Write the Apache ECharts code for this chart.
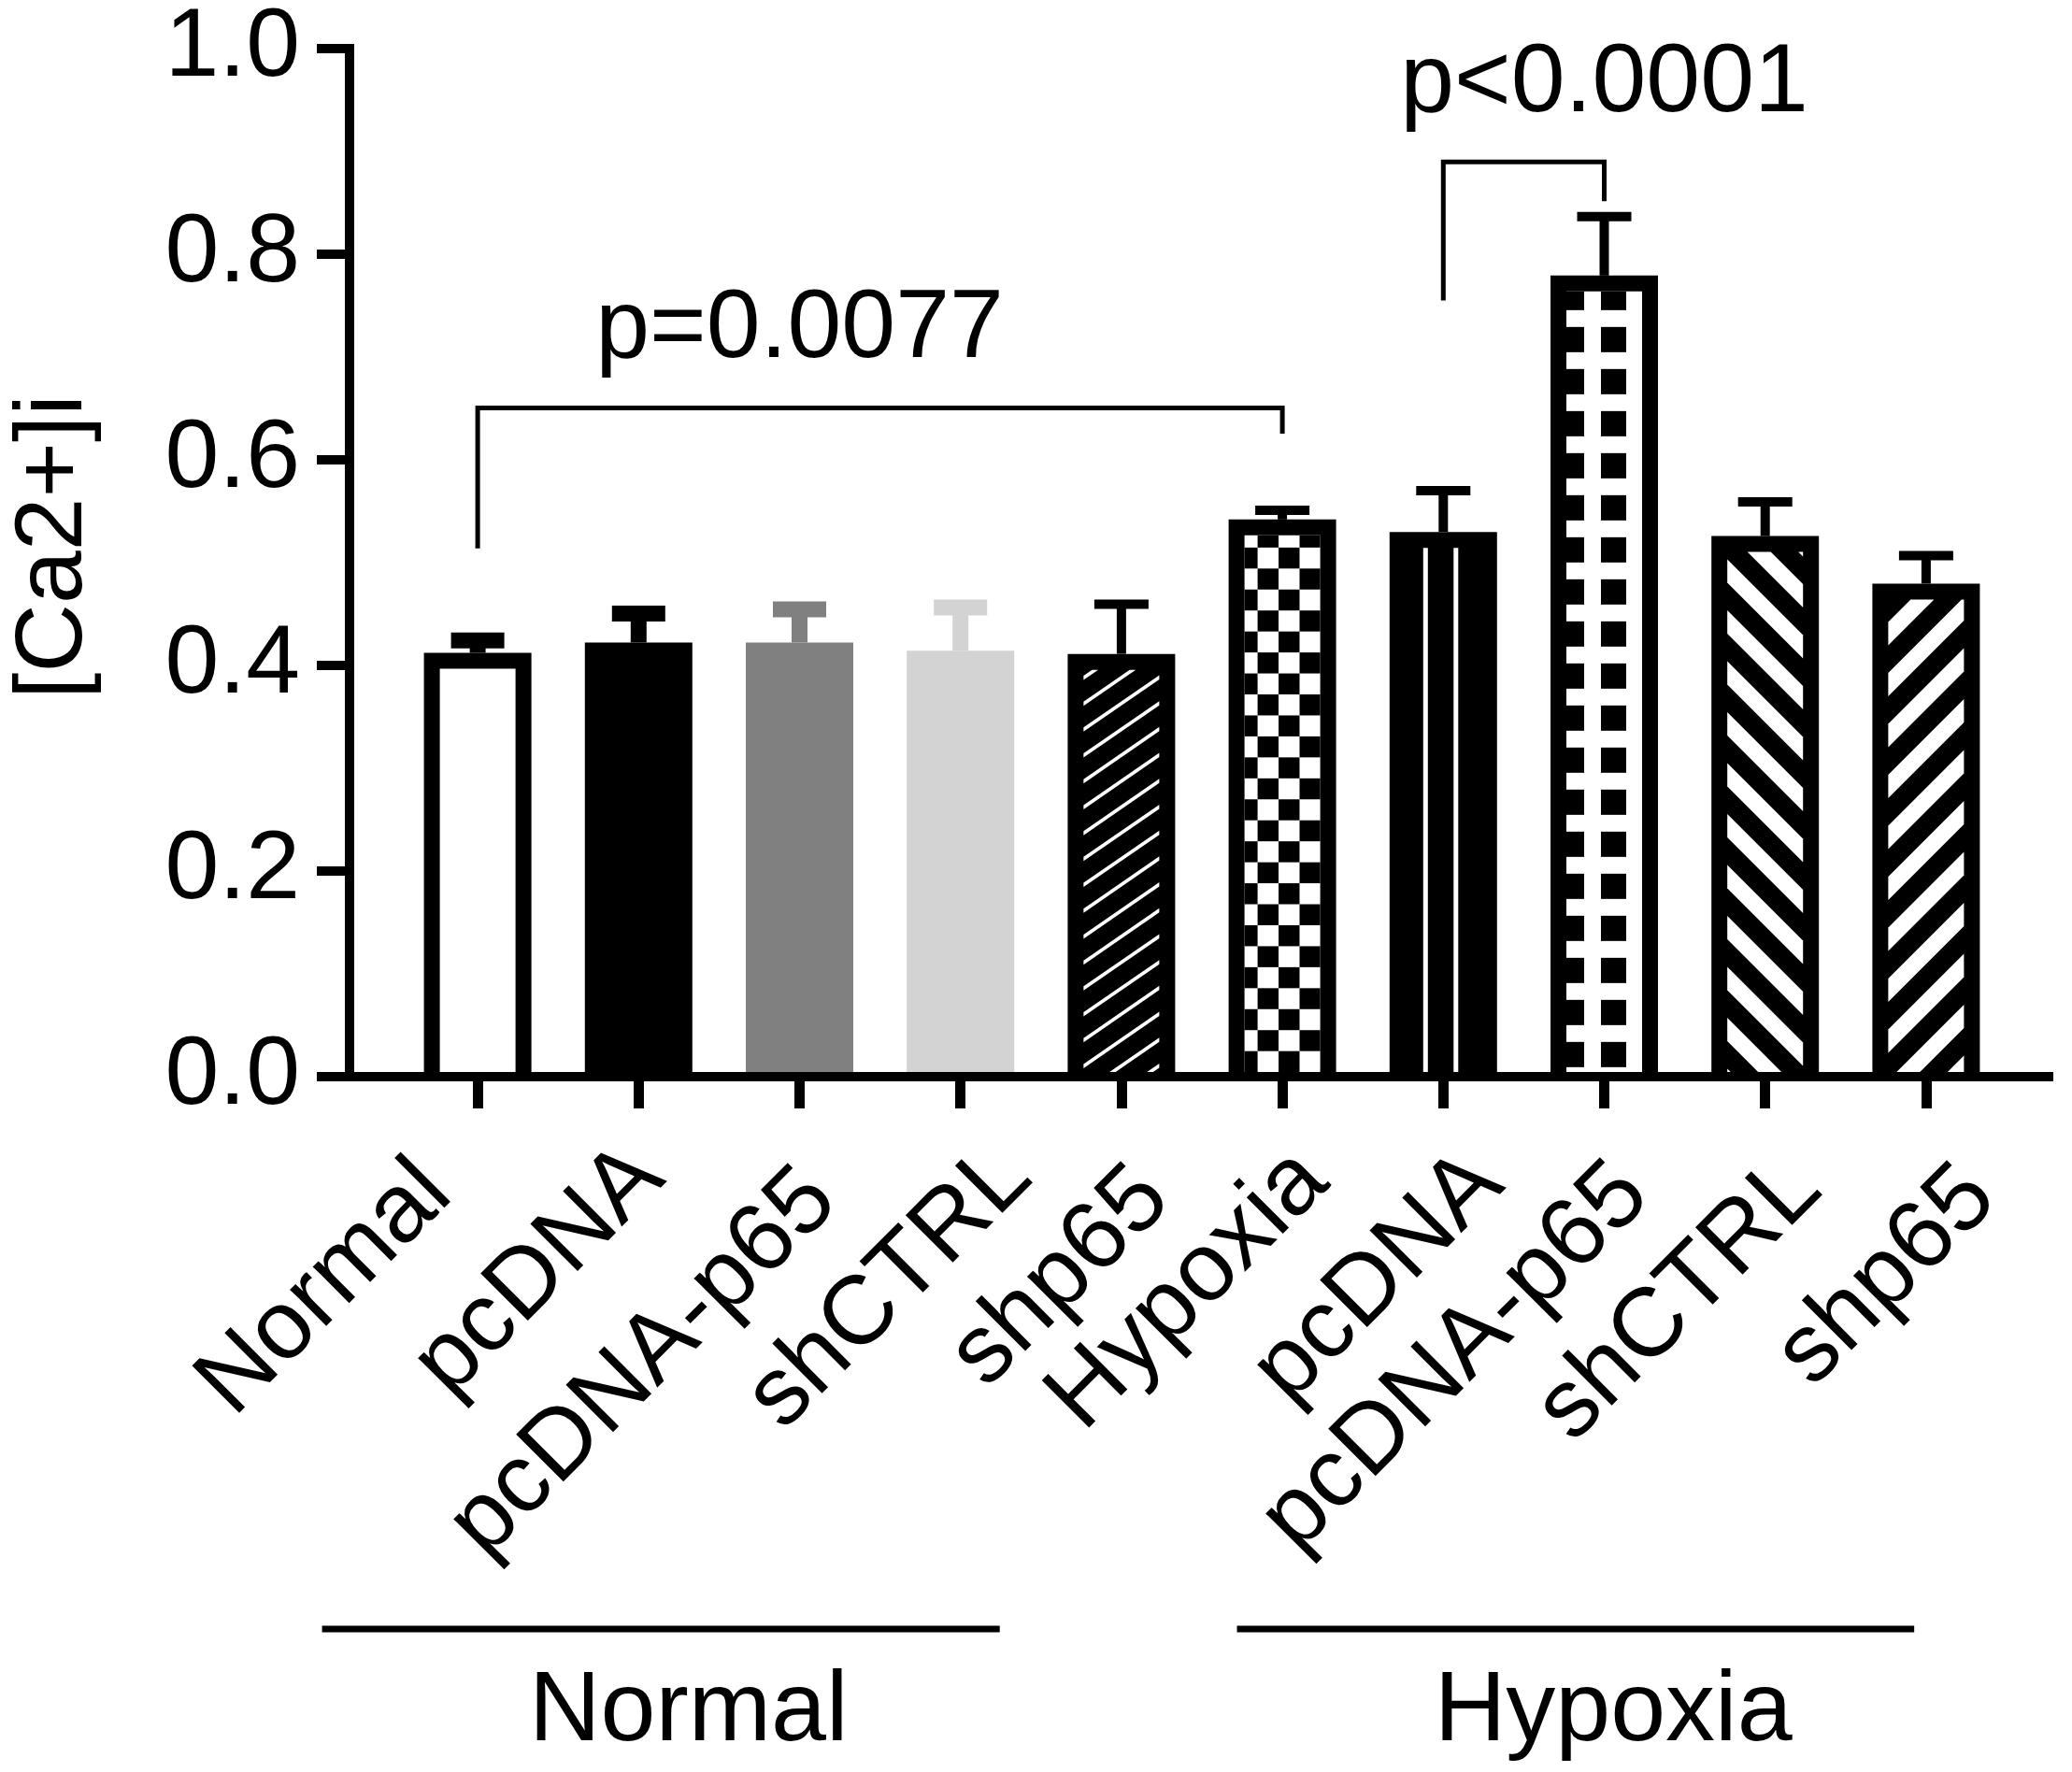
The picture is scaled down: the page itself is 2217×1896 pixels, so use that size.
<!DOCTYPE html>
<html><head><meta charset="utf-8">
<script src="https://cdn.jsdelivr.net/npm/echarts@6/dist/echarts.min.js"></script>
<style>html,body{margin:0;padding:0;background:#fff}#c{width:2217px;height:1896px}</style>
</head><body><div id="c"></div>
<script>
// ---------------- DATA ----------------
const categories = ['Normal','pcDNA','pcDNA-p65','shCTRL','shp65','Hypoxia','pcDNA','pcDNA-p65','shCTRL','shp65'];
const means = [0.410, 0.420, 0.420, 0.412, 0.409, 0.539, 0.527, 0.775, 0.523, 0.477];
const sems  = [0.012, 0.028, 0.032, 0.042, 0.048, 0.009, 0.040, 0.057, 0.033, 0.027];
const yMin = 0, yMax = 1.0, yStep = 0.2;
const yAxisTitle = '[Ca2+]i';
const groupNames = ['Normal', 'Hypoxia'];
const compFrom = [0, 6];
const compTo = [5, 7];
const compFootFrom = [0.511, 0.751];
const compTop = [0.647, 0.885];
const compFootTo = [0.622, 0.847];
const compText = ['p=0.0077', 'p<0.0001'];

// ---------------- STYLE / LAYOUT ----------------
const FONT = "'Liberation Sans', Arial, Helvetica, sans-serif";
const FS = 104;
const BAR_W = 115, BORDER = 17;
const fillKind = ['open','solid','solid','solid','hatchThin','checker','vlines','squares','stripeBack','stripeFwd'];
const barColor = ['#000','#000','#808080','#d3d3d3','#000','#000','#000','#000','#000','#000'];
const errThick = [17,17,17,17,10,10,10,10,10,10];
const errCapW  = [57,57,57,57,58,58,58,58,58,58];
// end of each rotated category label (baseline end) relative to its tick / the axis line, px
const labelEnd = [[-19,134],[36,117],[49,142],[85,116],[61,140],[58,121],[73,124],[57,136],[69,129],[84,139]];
const compTextAt = [[1.99, 0.722], [6.96, 0.960]];
const groupSpan = [[-0.967, 3.244], [4.718, 8.926]];
const groupTextAt = [1.31, 7.056];

function clipHalf(poly, g) {
  const out = [];
  for (let k = 0; k < poly.length; k++) {
    const a = poly[k], b = poly[(k + 1) % poly.length];
    const ga = g(a), gb = g(b);
    if (ga >= 0) out.push(a);
    if ((ga >= 0) !== (gb >= 0)) {
      const t = ga / (ga - gb);
      out.push([a[0] + t * (b[0] - a[0]), a[1] + t * (b[1] - a[1])]);
    }
  }
  return out;
}
function bands(L, T, R, B, s, c0, period, width, fill) {
  const fmin = s >= 0 ? T : T + s * (R - L);
  const fmax = s >= 0 ? B + s * (R - L) : B;
  const kmin = Math.floor((fmin - c0) / period) - 1;
  const kmax = Math.ceil((fmax - c0) / period) + 1;
  const res = [];
  for (let k = kmin; k <= kmax; k++) {
    const lo = c0 + k * period, hi = lo + width;
    let poly = [[L, T], [R, T], [R, B], [L, B]];
    poly = clipHalf(poly, p => (p[1] + s * (p[0] - L)) - lo);
    if (poly.length < 3) continue;
    poly = clipHalf(poly, p => hi - (p[1] + s * (p[0] - L)));
    if (poly.length < 3) continue;
    res.push({ type: 'polygon', shape: { points: poly }, style: { fill: fill } });
  }
  return res;
}
function gridRects(L, T, R, B, x0, y0, px, py, sw, sh, test, fill) {
  const res = [];
  let r = 0;
  for (let y = y0; y < B; y += py, r++) {
    let c = 0;
    for (let x = x0; x < R; x += px, c++) {
      if (!test(r, c)) continue;
      const xa = Math.max(x, L), xb = Math.min(x + sw, R);
      const ya = Math.max(y, T), yb = Math.min(y + sh, B);
      if (xb > xa && yb > ya) res.push({ type: 'rect', shape: { x: xa, y: ya, width: xb - xa, height: yb - ya }, style: { fill: fill } });
    }
  }
  return res;
}

function renderInterior(params, api) {
  const i = params.dataIndex;
  const m = api.value(1);
  const pt = api.coord([i, m]);
  const base = api.coord([i, 0])[1];
  const cx = pt[0];
  const L = cx - BAR_W / 2 + BORDER, R = cx + BAR_W / 2 - BORDER, T = pt[1] + BORDER, B = base;
  const kind = fillKind[i];
  let ch = [];
  if (kind === 'open') {
    ch.push({ type: 'rect', shape: { x: L, y: T, width: R - L, height: B - T }, style: { fill: '#fff' } });
  } else if (kind === 'hatchThin') {
    ch = bands(L, T, R, B, 0.69, T + 6.3, 27.7, 4.5, '#fff');
  } else if (kind === 'checker') {
    ch.push({ type: 'rect', shape: { x: L, y: T, width: R - L, height: B - T }, style: { fill: '#fff' } });
    const sq = 22.45;
    ch = ch.concat(gridRects(L, T, R, B, L + 14 - sq, T + 13 - sq, sq, sq, sq, sq, (r, c) => (r + c) % 2 === 1, '#000'));
  } else if (kind === 'vlines') {
    [-19, 13.5].forEach(o => ch.push({ type: 'rect', shape: { x: cx + o - 2.5, y: T, width: 5, height: B - T }, style: { fill: '#fff' } }));
  } else if (kind === 'squares') {
    ch.push({ type: 'rect', shape: { x: L, y: T, width: R - L, height: B - T }, style: { fill: '#fff' } });
    ch = ch.concat(gridRects(L, T, R, B, L - 8, T - 7, 45, 45, 27, 27, () => true, '#000'));
  } else if (kind === 'stripeBack') {
    ch = bands(L, T, R, B, -1, T + 8, 54.5, 25, '#fff');
  } else if (kind === 'stripeFwd') {
    ch = bands(L, T, R, B, 1, T + 24, 54.5, 25, '#fff');
  }
  return { type: 'group', children: ch };
}

function renderErr(params, api) {
  const i = params.dataIndex;
  const m = api.value(1), e = api.value(2);
  const pTop = api.coord([i, m]);
  const pCap = api.coord([i, m + e]);
  const th = errThick[i], cw = errCapW[i], col = barColor[i];
  return { type: 'group', children: [
    { type: 'rect', shape: { x: pTop[0] - th / 2, y: pCap[1], width: th, height: pTop[1] - pCap[1] }, style: { fill: col } },
    { type: 'rect', shape: { x: pCap[0] - cw / 2, y: pCap[1] - th / 2, width: cw, height: th }, style: { fill: col } }
  ]};
}

function renderComp(params, api) {
  const j = params.dataIndex;
  const a = api.coord([compFrom[j], compFootFrom[j]]);
  const b = api.coord([compFrom[j], compTop[j]]);
  const c = api.coord([compTo[j], compTop[j]]);
  const d = api.coord([compTo[j], compFootTo[j]]);
  const t = api.coord(compTextAt[j]);
  return { type: 'group', children: [
    { type: 'polyline', shape: { points: [a, b, c, d] }, style: { stroke: '#000', lineWidth: 5, fill: null, lineJoin: 'miter' } },
    { type: 'text', x: t[0], y: t[1], style: { text: compText[j], fill: '#000', font: FS + 'px ' + FONT, align: 'center', verticalAlign: 'middle' } }
  ]};
}

function renderCatLabel(params, api) {
  const i = params.dataIndex;
  const p = api.coord([i, 0]);
  const mid = 0.3465 * FS / Math.SQRT2; // from baseline to text middle, along the rotated "down" direction
  const ex = p[0] + labelEnd[i][0], ey = p[1] + labelEnd[i][1];
  return { type: 'text', x: ex - mid, y: ey - mid, rotation: Math.PI / 4,
    style: { text: categories[i], fill: '#000', font: FS + 'px ' + FONT, align: 'right', verticalAlign: 'middle' } };
}

const chart = echarts.init(document.getElementById('c'), null, { renderer: 'canvas' });

chart.setOption({
  animation: false,
  backgroundColor: '#fff',
  grid: [
    { left: 425, right: 70, top: 46, bottom: 744 },
    { left: 369, right: 25, top: 46, bottom: 744 }
  ],
  xAxis: [
    { type: 'category', gridIndex: 0, data: categories, boundaryGap: true,
      axisLine: { show: false },
      axisTick: { show: true, alignWithLabel: true, length: 34, lineStyle: { width: 11, color: '#000' } },
      axisLabel: { show: false },
      splitLine: { show: false } },
    { type: 'value', gridIndex: 1, min: 0, max: 1, z: 10,
      axisLine: { show: true, lineStyle: { width: 10, color: '#000', cap: 'square' } },
      axisTick: { show: false }, axisLabel: { show: false }, splitLine: { show: false } }
  ],
  yAxis: [
    { type: 'value', gridIndex: 0, min: yMin, max: yMax, show: false, splitLine: { show: false } },
    { type: 'value', gridIndex: 1, min: yMin, max: yMax, interval: yStep, z: 10,
      axisLine: { show: true, lineStyle: { width: 10, color: '#000', cap: 'square' } },
      axisTick: { show: true, length: 35, lineStyle: { width: 10, color: '#000' } },
      axisLabel: { margin: 53, fontSize: FS, fontFamily: FONT, color: '#000', formatter: v => v.toFixed(1) },
      splitLine: { show: false },
      name: yAxisTitle, nameLocation: 'middle', nameRotate: 90, nameGap: 264,
      nameTextStyle: { fontSize: 102, fontFamily: FONT, color: '#000', padding: [0, 0, 0, 34] } }
  ],
  series: [
    { type: 'bar', xAxisIndex: 0, yAxisIndex: 0, barWidth: BAR_W, silent: true, z: 2,
      data: means.map((v, i) => ({ value: v, itemStyle: { color: barColor[i] } })) },
    { type: 'custom', xAxisIndex: 0, yAxisIndex: 0, silent: true, z: 3, clip: false,
      data: means.map((v, i) => [i, v]), encode: { x: 0, y: 1 }, renderItem: renderInterior },
    { type: 'custom', xAxisIndex: 0, yAxisIndex: 0, silent: true, z: 4, clip: false,
      data: means.map((v, i) => [i, v, sems[i]]), encode: { x: 0, y: 1 }, renderItem: renderErr },
    { type: 'custom', xAxisIndex: 0, yAxisIndex: 0, silent: true, z: 4, clip: false,
      data: compText.map((t, j) => [compFrom[j], compTop[j]]), encode: { x: 0, y: 1 }, renderItem: renderComp },
    { type: 'custom', xAxisIndex: 0, yAxisIndex: 0, silent: true, z: 4, clip: false,
      data: categories.map((c, i) => [i, 0]), encode: { x: 0, y: 1 }, renderItem: renderCatLabel }
  ]
});

// group annotations under the category labels
const p0 = chart.convertToPixel({ xAxisIndex: 0 }, 0);
const p9 = chart.convertToPixel({ xAxisIndex: 0 }, 9);
const catPx = c => p0 + (p9 - p0) * c / 9;
const yBase = chart.convertToPixel({ yAxisIndex: 0 }, 0);
const gfx = [];
groupNames.forEach((g, k) => {
  gfx.push({ type: 'line', shape: { x1: catPx(groupSpan[k][0]), y1: yBase + 591, x2: catPx(groupSpan[k][1]), y2: yBase + 591 }, style: { stroke: '#000', lineWidth: 7 } });
  gfx.push({ type: 'text', x: catPx(groupTextAt[k]), y: yBase + 681, style: { text: g, fill: '#000', font: '106px ' + FONT, align: 'center', verticalAlign: 'middle' } });
});
chart.setOption({ graphic: gfx });
</script>
</body></html>
